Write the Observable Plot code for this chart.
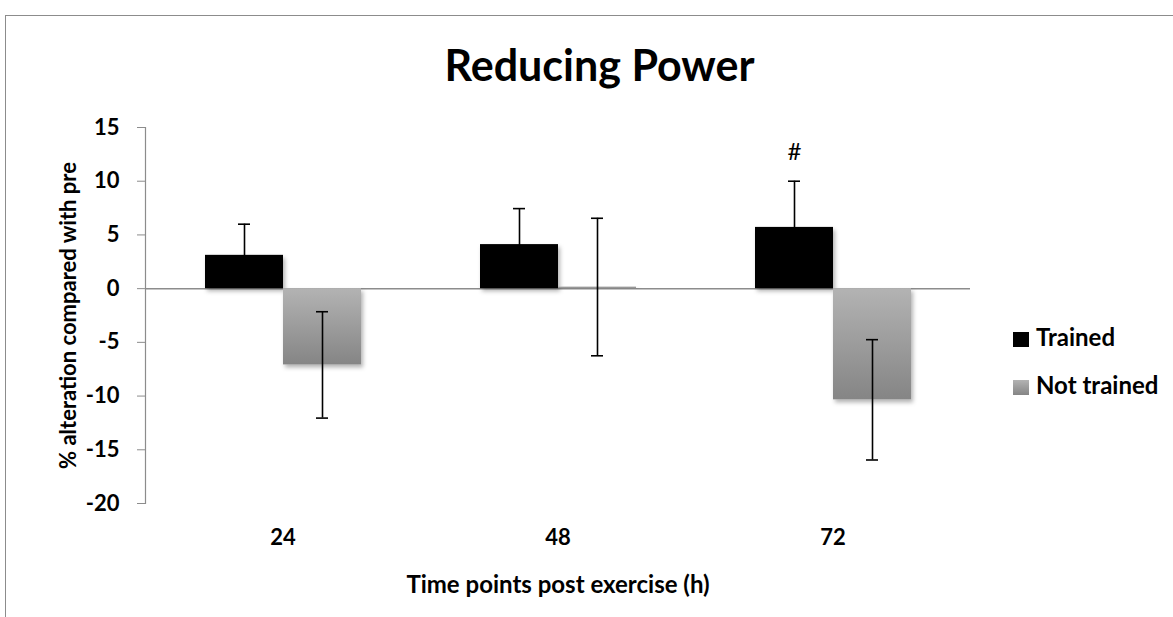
<!DOCTYPE html>
<html><head><meta charset="utf-8">
<script src="https://cdn.jsdelivr.net/npm/d3@7"></script>
<script src="https://cdn.jsdelivr.net/npm/@observablehq/plot@0.6"></script>
<style>
html,body{margin:0;padding:0;background:#fff;overflow:hidden;}
#wrap{position:relative;width:1173px;height:617px;font-family:Lato,"Open Sans",sans-serif;overflow:hidden;}
#border{position:absolute;left:5px;top:15px;width:2000px;height:2000px;border:1px solid #8c8c8c;box-sizing:border-box;}
#chart{position:absolute;left:0;top:0;}
#title{position:absolute;left:26px;width:1147px;top:39px;text-align:center;font-weight:bold;font-size:43px;line-height:52px;color:#000;white-space:nowrap;}
.sw{position:absolute;left:1013px;width:16px;height:15px;}
.lt{position:absolute;left:1036px;font-weight:bold;font-size:24px;line-height:24px;color:#000;white-space:nowrap;}
</style>
</head><body>
<div id="wrap">
  <div id="border"></div>
  <div id="chart"></div>
  <div id="title">Reducing Power</div>
  <div id="legend"></div>
</div>
<script>
const times = ["24", "48", "72"];
const groups = ["Trained", "Not trained"];
const trainedMean = [3.1, 4.1, 5.7];
const trainedErr = [2.9, 3.35, 4.3];
const notTrainedMean = [-7.1, 0.15, -10.35];
const notTrainedErr = [4.95, 6.4, 5.6];
const yTicks = [-20, -15, -10, -5, 0, 5, 10, 15];
const annotations = [{time: "72", group: "Trained", y: 12.7, label: "#"}];
const groupColors = ["#000000", "url(#ntGrad)"];
const legendSwatches = ["#000000", "linear-gradient(#b3b3b3, #858585)"];

const data = times.flatMap((t, i) => [
  {time: t, group: groups[0], value: trainedMean[i], err: trainedErr[i]},
  {time: t, group: groups[1], value: notTrainedMean[i], err: notTrainedErr[i]}
]);
const lo = d => d.value - d.err;
const hi = d => d.value + d.err;

const plot = Plot.plot({
  width: 1173, height: 617,
  marginLeft: 145, marginRight: 203, marginTop: 127, marginBottom: 114,
  style: {fontFamily: "Lato, 'Open Sans', sans-serif", fontWeight: "bold", fontSize: "22px", color: "black", background: "transparent", overflow: "visible"},
  fx: {domain: times, padding: 0, label: null},
  x: {domain: groups, paddingInner: 0, paddingOuter: 0.75, axis: null},
  y: {domain: [-20, 15]},
  color: {domain: groups, range: groupColors},
  marks: [
    Plot.frame({anchor: "left", stroke: "#8c8c8c", strokeWidth: 1.2, facet: "super"}),
    Plot.axisY({ticks: yTicks, tickFormat: d => String(d), tickSize: 8, tickPadding: 18, stroke: "#8c8c8c", fill: "black", fontSize: 22,
      label: "% alteration compared with pre", labelAnchor: "center", labelArrow: "none", labelOffset: 85}),
    Plot.axisFx({anchor: "bottom", tickSize: 0, tickPadding: 26, fontSize: 22,
      label: "Time points post exercise (h)", labelAnchor: "center", labelArrow: "none", labelOffset: 89}),
    Plot.ruleY([0], {stroke: "#8c8c8c", strokeWidth: 1.5}),
    Plot.barY(data, {fx: "time", x: "group", y: "value", fill: "group"}),
    Plot.ruleX(data, {fx: "time", x: "group", y1: lo, y2: hi, stroke: "black", strokeWidth: 1.6}),
    Plot.tickY(data, {fx: "time", x: "group", y: lo, insetLeft: 33, insetRight: 33, stroke: "black", strokeWidth: 1.6}),
    Plot.tickY(data, {fx: "time", x: "group", y: hi, insetLeft: 33, insetRight: 33, stroke: "black", strokeWidth: 1.6}),
    Plot.text(annotations, {fx: "time", x: "group", y: "y", text: "label", fontSize: 24, fontWeight: "normal", fill: "black"})
  ]
});

const svg = d3.select(plot);
const defs = svg.insert("defs", ":first-child");
defs.html(`
  <linearGradient id="ntGrad" x1="0" y1="0" x2="0" y2="1">
    <stop offset="0" stop-color="#b3b3b3"/>
    <stop offset="1" stop-color="#858585"/>
  </linearGradient>
  <filter id="shadow" x="-20%" y="-20%" width="140%" height="160%">
    <feDropShadow dx="2" dy="3" stdDeviation="2" flood-color="#000" flood-opacity="0.3"/>
  </filter>`);
svg.selectAll("g[aria-label='bar'] rect").attr("filter", "url(#shadow)");
svg.selectAll("g[aria-label='y-axis label']").attr("font-size", 22).selectAll("text").attr("font-size", 22);
svg.selectAll("g[aria-label='fx-axis label']").attr("font-size", 24).selectAll("text").attr("font-size", 24);
document.getElementById("chart").appendChild(plot);

const legend = document.getElementById("legend");
const swTops = [332, 380];
const textTops = [325, 373];
groups.forEach((g, i) => {
  const sw = document.createElement("div");
  sw.className = "sw";
  sw.style.top = swTops[i] + "px";
  sw.style.background = legendSwatches[i];
  legend.appendChild(sw);
  const t = document.createElement("div");
  t.className = "lt";
  t.style.top = textTops[i] + "px";
  t.textContent = g;
  legend.appendChild(t);
});
</script>
</body></html>
